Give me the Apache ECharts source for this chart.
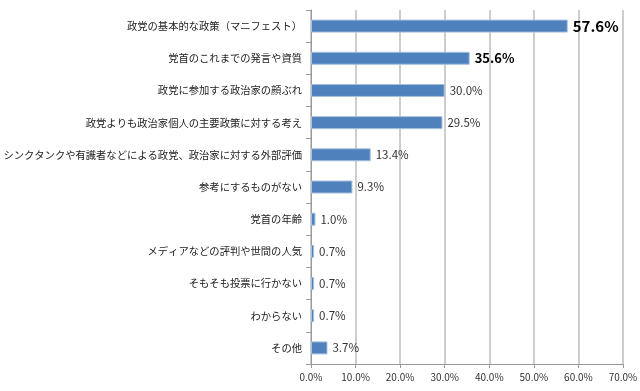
<!DOCTYPE html>
<html><head><meta charset="utf-8">
<script src="https://cdn.jsdelivr.net/npm/echarts@6/dist/echarts.min.js"></script>
<style>html,body{margin:0;padding:0;background:#fff}#c{width:640px;height:391px}</style>
</head><body><div id="c"></div>
<script>
const categories = [
  "政党の基本的な政策（マニフェスト）",
  "党首のこれまでの発言や資質",
  "政党に参加する政治家の顔ぶれ",
  "政党よりも政治家個人の主要政策に対する考え",
  "シンクタンクや有識者などによる政党、政治家に対する外部評価",
  "参考にするものがない",
  "党首の年齢",
  "メディアなどの評判や世間の人気",
  "そもそも投票に行かない",
  "わからない",
  "その他"
];
const values = [57.6, 35.6, 30.0, 29.5, 13.4, 9.3, 1.0, 0.7, 0.7, 0.7, 3.7];
const xTicks = [0, 10, 20, 30, 40, 50, 60, 70];

const font = '"Noto Sans CJK JP", "Noto Sans", sans-serif';
const data = values.map((v, i) => {
  const d = { value: v };
  if (i === 0) d.label = { fontSize: 15, fontWeight: 'bold', color: '#000' };
  if (i === 1) d.label = { fontSize: 13, fontWeight: 'bold', color: '#000' };
  return d;
});
const chart = echarts.init(document.getElementById('c'));
chart.setOption({
  animation: false,
  grid: { left: 311, right: 17, top: 10, height: 354, containLabel: false, outerBoundsMode: 'none' },
  xAxis: {
    type: 'value', min: xTicks[0], max: xTicks[xTicks.length - 1], interval: 10,
    axisLine: { show: true, lineStyle: { color: '#999' } },
    axisTick: { show: true, length: 4, lineStyle: { color: '#999' } },
    splitLine: { show: true, lineStyle: { color: '#bdbdbd', width: 1.5 } },
    axisLabel: { formatter: v => v.toFixed(1) + '%', fontSize: 10, color: '#333', fontFamily: font, margin: 8 }
  },
  yAxis: {
    type: 'category', data: categories, inverse: true,
    axisLine: { show: true, lineStyle: { color: '#999' } },
    axisTick: { show: true, length: 5, lineStyle: { color: '#999' } },
    axisLabel: { fontSize: 10.3, color: '#222', fontFamily: font, margin: 9 }
  },
  series: [{
    type: 'bar', data: data, barWidth: 13,
    itemStyle: { color: '#4f81bd', borderColor: '#a7c0de', borderWidth: 1 },
    label: { show: true, position: 'right', distance: 5, formatter: p => p.value.toFixed(1) + '%', fontSize: 11.5, color: '#333', fontFamily: font }
  }]
});
</script></body></html>
